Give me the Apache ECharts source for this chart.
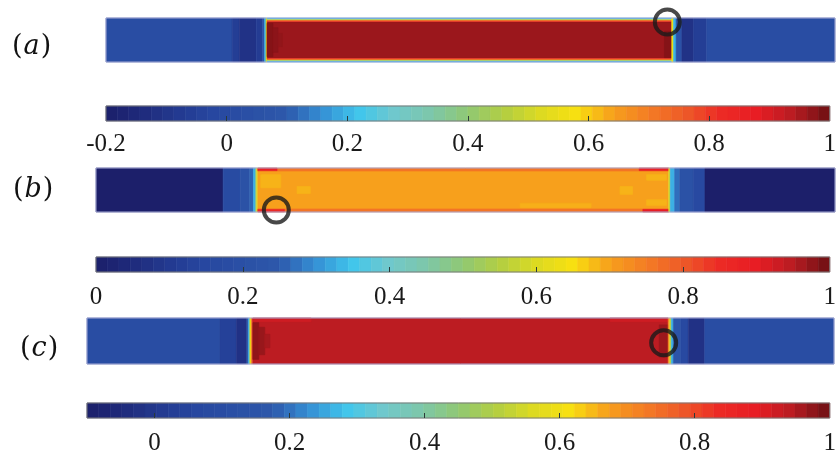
<!DOCTYPE html>
<html>
<head>
<meta charset="utf-8">
<script src="https://cdn.jsdelivr.net/npm/echarts@6/dist/echarts.min.js"></script>
<style>
html,body{margin:0;padding:0;background:#fff;}
#chart{width:839px;height:456px;}
</style>
</head>
<body>
<div id="chart"></div>
<script>
// ---------- DATA ----------
// Field cells per panel: [xStart, xEnd, yStart, yEnd, value]  (domain units: x 0..100 along strip, y 0..10 across)
const fieldA = [
  [0, 17.3, 0, 10, 0.02],
  [17.3, 18.3, 0, 10, -0.06],
  [18.3, 20.6, 0, 10, -0.11],
  [20.6, 21.5, 0, 10, -0.07],
  [21.5, 21.75, 0, 10, 0.08],
  [21.75, 21.95, 0, 10, 0.2],
  [21.95, 22.1, 0, 10, 0.55],
  [22.1, 77.6, 0.8, 9.2, 0.963],
  [22.1, 77.6, 9.6, 10, 0.2],
  [22.1, 77.6, 9.4, 9.6, 0.55],
  [22.1, 77.6, 9.2, 9.4, 0.8],
  [22.1, 77.6, 0, 0.4, 0.2],
  [22.1, 77.6, 0.4, 0.6, 0.55],
  [22.1, 77.6, 0.6, 0.8, 0.8],
  [22.1, 22.9, 1.2, 8.8, 0.98],
  [22.9, 23.6, 2.2, 7.8, 0.975],
  [23.6, 24.2, 3.5, 6.5, 0.97],
  [76.6, 77.6, 1.0, 7.0, 0.98],
  [77.6, 77.85, 0, 10, 0.55],
  [77.85, 78.2, 0, 10, 0.2],
  [78.2, 79.0, 0, 10, 0.05],
  [79.0, 80.6, 0, 10, -0.11],
  [80.6, 82.4, 0, 10, -0.06],
  [82.4, 100, 0, 10, 0.02]
];
const fieldB = [
  [0, 17.2, 0, 10, 0.0],
  [17.2, 19.5, 0, 10, 0.17],
  [19.5, 20.8, 0, 10, 0.21],
  [20.8, 21.3, 0, 10, 0.26],
  [21.3, 21.6, 0, 10, 0.33],
  [21.6, 21.75, 0, 10, 0.5],
  [21.75, 21.9, 0, 10, 0.62],
  [21.9, 77.5, 0.7, 9.3, 0.70],
  [21.9, 77.5, 9.3, 10, 0.76],
  [21.9, 77.5, 0, 0.7, 0.76],
  [21.9, 24.5, 9.4, 10, 0.88],
  [21.9, 25.5, 0, 0.6, 0.85],
  [73.5, 77.5, 9.4, 10, 0.88],
  [74.0, 77.5, 0, 0.6, 0.9],
  [22.3, 25.0, 5.5, 8.5, 0.685],
  [27.2, 29.0, 4.2, 5.8, 0.685],
  [70.9, 72.6, 4.0, 5.8, 0.685],
  [74.5, 77.2, 7.2, 8.5, 0.685],
  [74.5, 77.2, 1.5, 2.8, 0.685],
  [57.4, 67.0, 1.0, 2.0, 0.688],
  [77.5, 77.7, 0, 10, 0.6],
  [77.7, 78.3, 0, 10, 0.33],
  [78.3, 79.0, 0, 10, 0.27],
  [79.0, 80.8, 0, 10, 0.21],
  [80.8, 82.4, 0, 10, 0.16],
  [82.4, 100, 0, 10, 0.0]
];
const fieldC = [
  [0, 17.8, 0, 10, 0.1],
  [17.8, 20.0, 0, 10, 0.04],
  [20.0, 21.4, 0, 10, -0.02],
  [21.4, 21.6, 0, 10, 0.15],
  [21.6, 21.8, 0, 10, 0.26],
  [21.8, 22.0, 0, 10, 0.6],
  [22.0, 22.2, 0, 10, 0.75],
  [22.2, 77.8, 0, 10, 0.94],
  [22.2, 30.0, 9.2, 10, 0.92],
  [70.0, 77.8, 9.2, 10, 0.92],
  [22.2, 23.0, 1.0, 9.0, 0.975],
  [23.0, 23.8, 2.0, 8.0, 0.968],
  [23.8, 24.5, 3.5, 6.5, 0.958],
  [76.6, 77.8, 1.5, 8.5, 0.965],
  [77.8, 78.0, 0, 10, 0.7],
  [78.0, 78.2, 0, 10, 0.55],
  [78.2, 78.5, 0, 10, 0.26],
  [78.5, 79.5, 0, 10, 0.15],
  [79.5, 80.5, 0, 10, 0.08],
  [80.5, 82.7, 0, 10, -0.02],
  [82.7, 100, 0, 10, 0.1]
];
// Marker circles [x, y] in strip domain units
const circleA = [[77.0, 9.1]];
const circleB = [[24.4, 0.45]];
const circleC = [[77.2, 4.6]];
// Colorbar ranges and tick labels
const rangeA = [-0.2, 1];
const rangeB = [0, 1];
const rangeC = [-0.1, 1];
const ticksA = [-0.2, 0, 0.2, 0.4, 0.6, 0.8, 1];
const ticksB = [0, 0.2, 0.4, 0.6, 0.8, 1];
const ticksC = [0, 0.2, 0.4, 0.6, 0.8, 1];
const panelLetters = ['a', 'b', 'c'];

// ---------- STYLE ----------
const JET = ['#1c1f6a','#1f2a7c','#233a90','#2747a0','#2a50a5','#2d58ab','#3590d5','#40c6ec','#70c8cc','#7dc7aa',
  '#90c874','#b2ce42','#dcda22','#f8e010','#f7a01c','#f47c24','#ed5a28','#ec2a25','#e81d24','#b81c22','#6c0f12'];
const BANDS = 64;
const layout = {
  strips: [
    {left: 106, top: 18, width: 729, height: 44},
    {left: 96, top: 168, width: 739, height: 44},
    {left: 87, top: 318, width: 747, height: 46}
  ],
  bars: [
    {left: 106, top: 106, width: 727, height: 15, margin: 11},
    {left: 96, top: 257, width: 737, height: 15, margin: 13},
    {left: 87, top: 403, width: 746, height: 15, margin: 13}
  ],
  labels: [[12, 50], [13, 193], [20, 352]]
};
const FONT = '"Liberation Serif", "Times New Roman", serif';

function bandsFor(range) {
  const out = [];
  const step = (range[1] - range[0]) / BANDS;
  for (let i = 0; i < BANDS; i++) {
    const a = range[0] + i * step;
    out.push([a, a + step, 0, 1, a + step / 2]);
  }
  return out;
}
function rectItem(params, api) {
  const p0 = api.coord([api.value(0), api.value(3)]);
  const p1 = api.coord([api.value(1), api.value(2)]);
  const c = api.visual('color');
  return {type: 'rect', shape: {x: p0[0], y: p0[1], width: p1[0] - p0[0], height: p1[1] - p0[1]},
    style: {fill: c, stroke: c, lineWidth: 0.6}};
}
function frameItem(color) {
  return function (params, api) {
    const p0 = api.coord([api.value(0), api.value(3)]);
    const p1 = api.coord([api.value(1), api.value(2)]);
    return {type: 'rect', shape: {x: p0[0], y: p0[1], width: p1[0] - p0[0], height: p1[1] - p0[1]},
      style: {fill: 'none', stroke: color, lineWidth: 1}, z2: 100};
  };
}

const fields = [fieldA, fieldB, fieldC];
const circles = [circleA, circleB, circleC];
const ranges = [rangeA, rangeB, rangeC];
const ticks = [ticksA, ticksB, ticksC];

const grid = [], xAxis = [], yAxis = [], series = [], visualMap = [], graphic = [];
for (let k = 0; k < 3; k++) {
  grid.push(Object.assign({}, layout.strips[k]));
  xAxis.push({type: 'value', gridIndex: k, min: 0, max: 100, show: false});
  yAxis.push({type: 'value', gridIndex: k, min: 0, max: 10, show: false});
}
for (let k = 0; k < 3; k++) {
  const b = layout.bars[k];
  grid.push({left: b.left, top: b.top, width: b.width, height: b.height});
  const interior = ticks[k].filter(v => v > ranges[k][0] && v < ranges[k][1]);
  xAxis.push({
    type: 'value', gridIndex: 3 + k, min: ranges[k][0], max: ranges[k][1], z: 10,
    axisLine: {show: false}, splitLine: {show: false},
    axisTick: {show: true, inside: true, length: 5, customValues: interior, lineStyle: {color: '#2a3a3a', width: 1}},
    axisLabel: {customValues: ticks[k], fontFamily: FONT, fontSize: 25, color: '#1a1a1a', margin: b.margin}
  });
  yAxis.push({type: 'value', gridIndex: 3 + k, min: 0, max: 1, show: false});
}
for (let k = 0; k < 3; k++) {
  series.push({type: 'custom', xAxisIndex: k, yAxisIndex: k, renderItem: rectItem,
    encode: {x: [0, 1], y: [2, 3]}, data: fields[k]});
}
for (let k = 0; k < 3; k++) {
  series.push({type: 'custom', xAxisIndex: 3 + k, yAxisIndex: 3 + k, renderItem: rectItem,
    encode: {x: [0, 1], y: [2, 3]}, data: bandsFor(ranges[k])});
}
for (let k = 0; k < 3; k++) {
  visualMap.push({type: 'continuous', show: false, seriesIndex: [k, 3 + k], dimension: 4,
    min: ranges[k][0], max: ranges[k][1], inRange: {color: JET}});
}
for (let k = 0; k < 3; k++) {
  series.push({type: 'custom', xAxisIndex: k, yAxisIndex: k, renderItem: frameItem('#a9acd6'),
    encode: {x: [0, 1], y: [2, 3]}, data: [[0, 100, 0, 10]], z: 5, silent: true});
  series.push({type: 'custom', xAxisIndex: 3 + k, yAxisIndex: 3 + k, renderItem: frameItem('#7a7a7a'),
    encode: {x: [0, 1], y: [2, 3]}, data: [[ranges[k][0], ranges[k][1], 0, 1]], z: 5, silent: true});
  series.push({type: 'scatter', xAxisIndex: k, yAxisIndex: k, data: circles[k], symbol: 'circle',
    symbolSize: 25, clip: false, z: 20, silent: true,
    itemStyle: {color: 'rgba(0,0,0,0)', borderColor: '#1a1a1a', borderWidth: 4}});
}
for (let k = 0; k < 3; k++) {
  graphic.push({type: 'text', left: layout.labels[k][0], top: layout.labels[k][1] - 17,
    style: {
      text: '{p|(}{l|' + panelLetters[k] + '}{p|)}',
      rich: {
        p: {fontFamily: '"DejaVu Serif", serif', fontSize: 27, fill: '#111', fontWeight: 'normal'},
        l: {fontFamily: '"DejaVu Serif", serif', fontStyle: 'italic', fontSize: 27, fill: '#111', padding: [0, 1, 0, 1]}
      }
    }});
}

const chart = echarts.init(document.getElementById('chart'), null, {renderer: 'canvas'});
chart.setOption({animation: false, backgroundColor: '#fff', grid, xAxis, yAxis, visualMap, series, graphic});
</script>
</body>
</html>
